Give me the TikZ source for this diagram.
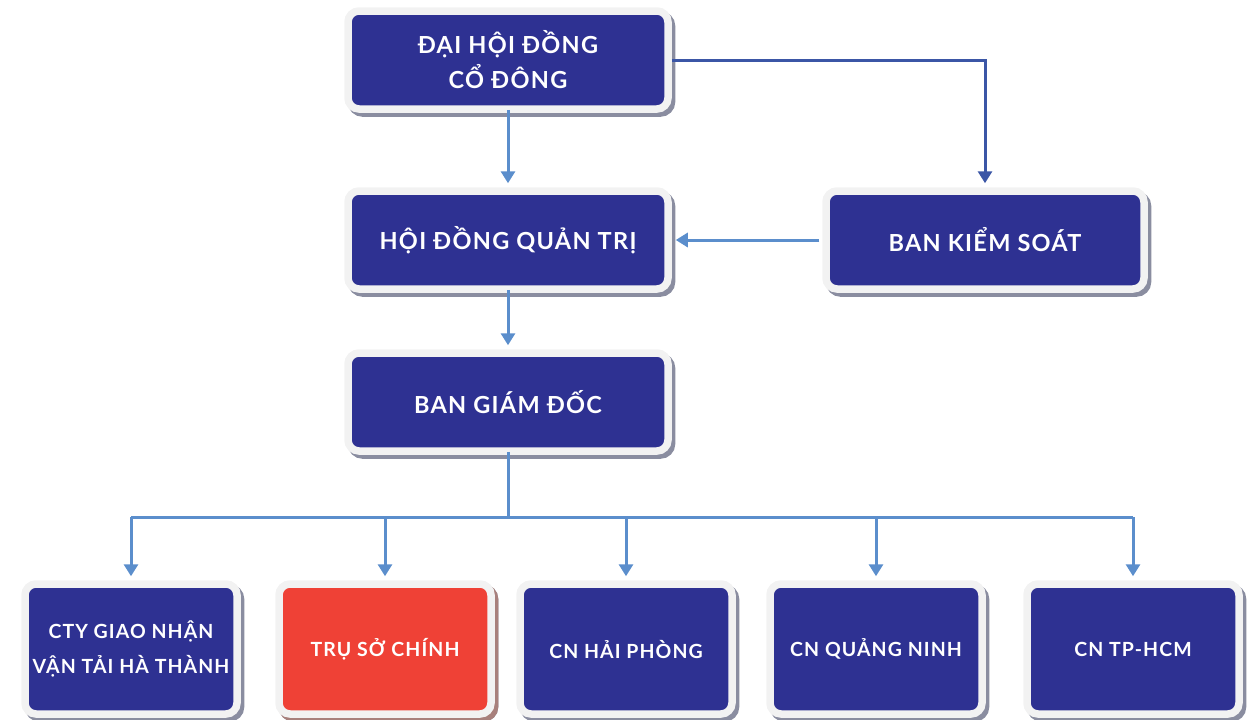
\documentclass[tikz,border=0pt]{standalone}
\usepackage{fontspec}
\setmainfont{Lato}
\newfontfamily\boxfont[LetterSpace=5.5]{Lato}
\usetikzlibrary{arrows.meta}
\definecolor{boxblue}{HTML}{2E3192}
\definecolor{boxred}{HTML}{EF4136}
\definecolor{framegray}{HTML}{F2F2F2}
\definecolor{shadowgray}{HTML}{8A8DA0}
\definecolor{shadowred}{HTML}{A8807C}
\definecolor{lineblue}{HTML}{5B8ECC}
\definecolor{darkline}{HTML}{3B56A6}
\begin{document}
\begin{tikzpicture}[x=1pt,y=-1pt,
  basebox/.style={rounded corners=11pt, draw=framegray, line width=7.5pt, text=white,
    align=center, inner sep=0pt},
  bigbox/.style={basebox, fill=boxblue, minimum width=320pt, minimum height=98pt,
    font=\boxfont\bfseries\fontsize{23.5}{35}\selectfont,
    preaction={draw=shadowgray, fill=shadowgray, transform canvas={shift={(3.5pt,-4pt)}}}},
  smallbox/.style={basebox, fill=boxblue, minimum width=212pt, minimum height=130pt,
    font=\boxfont\bfseries\fontsize{19.5}{35}\selectfont,
    preaction={draw=shadowgray, fill=shadowgray, transform canvas={shift={(3.5pt,-4pt)}}}},
  redbox/.style={smallbox, fill=boxred,
    preaction={draw=shadowred, fill=shadowred, transform canvas={shift={(3.5pt,-4pt)}}}},
  conn/.style={draw=lineblue, line width=3pt},
  arr/.style={conn, -{Triangle[width=14pt,length=12pt]}, shorten >=4pt},
  darr/.style={draw=darkline, line width=3pt, -{Triangle[width=14pt,length=12pt]}, shorten >=4pt}]
\useasboundingbox (0,0) rectangle (1258,720);

\node[bigbox] (dh) at (508,60) {ĐẠI HỘI ĐỒNG\\CỔ ĐÔNG};
\node[bigbox] (hd) at (508,240) {HỘI ĐỒNG QUẢN TRỊ};
\node[bigbox, minimum width=318pt] (bks) at (985,240) {BAN KIỂM SOÁT};
\node[bigbox] (bgd) at (508,402) {BAN GIÁM ĐỐC};

\node[smallbox] (b1) at (131,649) {CTY GIAO NHẬN\\VẬN TẢI HÀ THÀNH};
\node[redbox] (b2) at (385,649) {TRỤ SỞ CHÍNH};
\node[smallbox] (b3) at (626,649) {CN HẢI PHÒNG};
\node[smallbox] (b4) at (876,649) {CN QUẢNG NINH};
\node[smallbox] (b5) at (1133,649) {CN TP-HCM};

\coordinate (bus) at (508,517);

\draw[arr] ([yshift=3pt]dh.south) -- (hd.north);
\draw[arr] ([yshift=3pt]hd.south) -- (bgd.north);
\draw[darr] (dh.east) -| (bks.north);
\draw[arr] ([xshift=-3pt]bks.west) -- (hd.east);
\draw[conn] ([yshift=3pt]bgd.south) -- (bus);
\draw[conn] (b1.north |- bus) -- (b5.north |- bus);
\foreach \b in {b1,b2,b3,b4,b5}
  \draw[arr] (\b.north |- bus) -- (\b.north);
\end{tikzpicture}
\end{document}
